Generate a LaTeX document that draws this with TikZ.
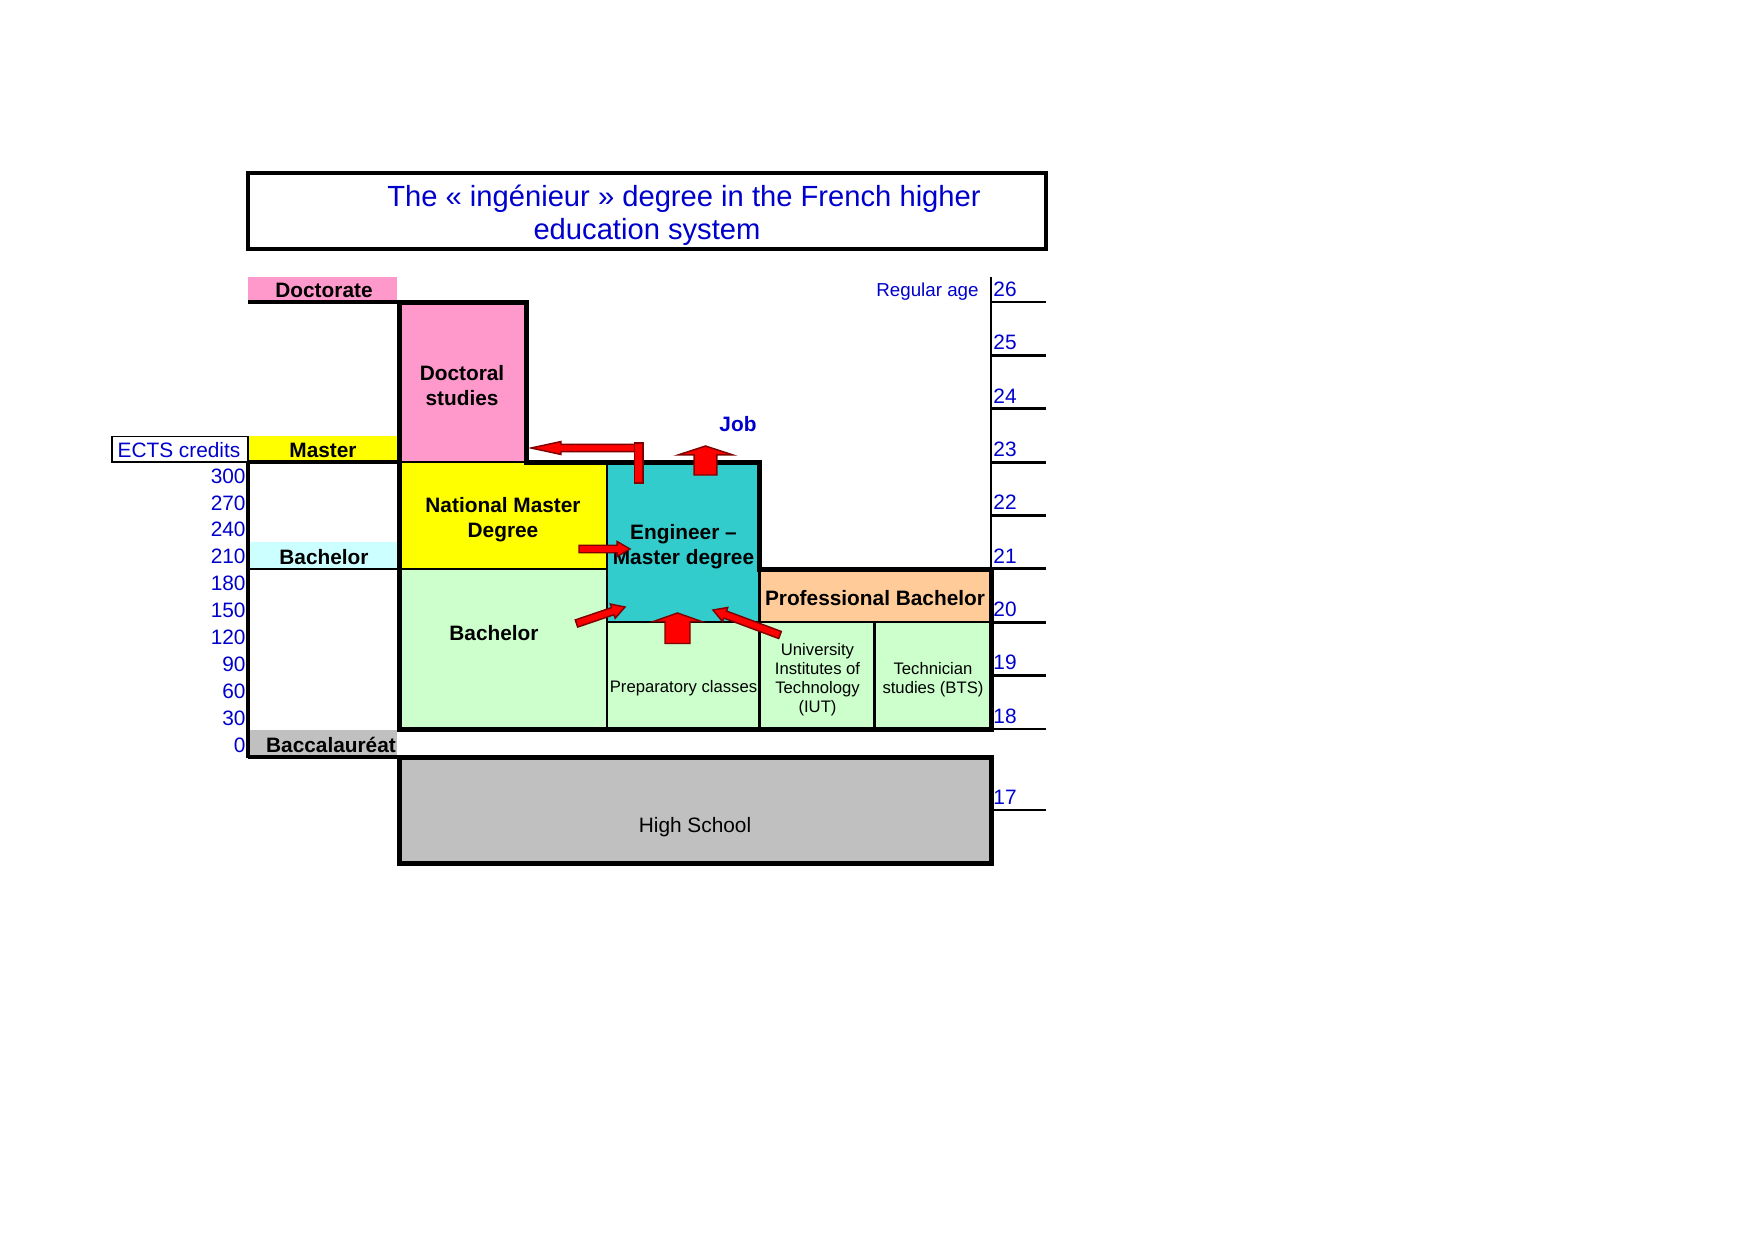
\documentclass[tikz,border=0pt]{standalone}
\usepackage{fontspec}
\setmainfont{Liberation Sans}
\usetikzlibrary{calc}
\definecolor{tblue}{RGB}{0,0,204}
\definecolor{cpink}{HTML}{FF99CC}
\definecolor{cyellow}{HTML}{FFFF00}
\definecolor{ccyan}{HTML}{CCFFFF}
\definecolor{cgreen}{HTML}{CCFFCC}
\definecolor{cteal}{HTML}{33CCCC}
\definecolor{cpeach}{HTML}{FFCC99}
\definecolor{cgray}{HTML}{C0C0C0}
\definecolor{arrowdark}{HTML}{800000}
\definecolor{arrowred}{HTML}{FF0000}
\newcommand{\blockarrow}[5]{%
  \coordinate (ba-n) at ($(#2)!#5!(#1)$);
  \filldraw[arrowfill] ($(#1)!#3!90:(#2)$) -- ($(ba-n)!#3!90:(#2)$) -- ($(ba-n)!#4!90:(#2)$) -- (#2)
    -- ($(ba-n)!#4!-90:(#2)$) -- ($(ba-n)!#3!-90:(#2)$) -- ($(#1)!#3!-90:(#2)$) -- cycle;
}
\tikzset{
  lbl/.style={font=\fontsize{10}{12.3}\selectfont\bfseries, align=center, inner sep=0pt},
  sml/.style={font=\fontsize{8}{9.2}\selectfont, align=center, inner sep=0pt},
  reg/.style={font=\fontsize{10}{12}\selectfont, align=center, inner sep=0pt},
  num/.style={font=\fontsize{10}{12}\selectfont, text=tblue, inner sep=0pt},
  ttl/.style={font=\fontsize{14}{16}\selectfont, text=tblue, inner sep=0pt},
  thickline/.style={line width=2.4pt, line join=miter},
  midline/.style={line width=1.4pt},
  thinline/.style={line width=1pt},
  arrowfill/.style={fill=arrowred, draw=arrowdark, line width=0.7pt, line join=miter},
}
\begin{document}
\begin{tikzpicture}[x=0.48pt, y=-0.48pt]
\useasboundingbox (0,0) rectangle (1754,1240);

% title
\draw[line width=1.9pt] (248,173) rectangle (1046,249);
\node[ttl] (title1) at (684,198.5) {The « ingénieur » degree in the French higher};
\node[ttl] (title2) at (647,231.5) {education system};

% left column labels
\fill[cpink] (248,277) rectangle (397,302);
\fill[cyellow] (248,436) rectangle (397,462);
\fill[ccyan] (248,542) rectangle (397,569);
\fill[cgray] (248,730) rectangle (397,757);
\node[lbl] (ldoc) at (324,290) {Doctorate};
\node[lbl] (lmas) at (323,450) {Master};
\node[lbl] (lbac) at (324,557) {Bachelor};
\node[lbl] (lbacc) at (331,745) {Baccalauréat};
\draw[line width=1.9pt] (248,302) -- (399,302);
\draw[line width=1.9pt] (248,462) -- (399,462);
\draw[midline] (248,569) -- (399,569);
\draw[line width=1.9pt] (248,757) -- (399,757);
\draw[line width=1.7pt] (248,461) -- (248,758);

% ECTS box and numbers
\draw[line width=0.6pt] (112,436.5) rectangle (248,462);
\node[num] (ects) at (179,450) {ECTS credits};
\foreach \k in {0,...,10}{
  \pgfmathtruncatemacro\v{300-30*\k}
  \node[num, anchor=east] (e\v) at (246,{476+26.9*\k}) {\v};
}

% blocks fills
\fill[cpink] (399,302) rectangle (526,462);
\fill[cyellow] (399,462) rectangle (607,569);
\fill[cgreen] (399,569) rectangle (607,729);
\fill[cteal] (607,462) rectangle (759.5,622);
\fill[cgreen] (607,622) rectangle (759.5,729);
\fill[cpeach] (759.5,569) rectangle (991,622);
\fill[cgreen] (759.5,622) rectangle (991,729);

% internal lines
\draw[midline] (399,462) -- (526,462);
\draw[midline] (399,569) -- (607,569);
\draw[midline] (607,462) -- (607,729);
\draw[thinline] (607,622) -- (759.5,622);
\draw[midline] (759.5,569) -- (759.5,729);
\draw[thinline] (759.5,622) -- (991,622);
\draw[midline] (874.7,622) -- (874.7,729);

% outline
\draw[thickline] (399,302) -- (526,302) -- (526,462) -- (759.5,462) -- (759.5,569)
  -- (991,569) -- (991,729) -- (399,729) -- cycle;

% age axis
\draw[midline] (991,277) -- (991,729);
\foreach \k in {0,...,8}{
  \pgfmathtruncatemacro\a{26-\k}
  \node[num, anchor=west] (age\a) at (993,{302+53.375*\k-13}) {\a};
  \draw[midline] (991,{302+53.375*\k}) -- (1046,{302+53.375*\k});
}
\node[num, anchor=west] (age17) at (993,797) {17};
\draw[midline] (991,810) -- (1046,810);
\node[num, anchor=east, font=\fontsize{9}{11}\selectfont] (regage) at (979,292) {Regular age};

% high school
\draw[thickline, fill=cgray] (399,757) rectangle (991,863.5);
\node[reg] (hs) at (695,827.5) {High School};

% block texts
\node[lbl] (docst) at (462,385.5) {Doctoral\\studies};
\node[lbl] (nmd) at (503,519.5) {National Master\\Degree};
\node[lbl] (bach) at (494,633.5) {Bachelor};
\node[lbl] (eng) at (683.5,546.5) {Engineer --\\Master degree};
\node[sml] (prep) at (683.5,688.5) {Preparatory classes};
\node[lbl] (prof) at (875,598.5) {Professional Bachelor};
\node[sml] (iut) at (817.5,679.5) {University\\Institutes of\\Technology\\(IUT)};
\node[sml] (bts) at (933,679.5) {Technician\\studies (BTS)};
\node[lbl, text=tblue] (job) at (738,424) {Job};

% arrows
\coordinate (dS) at (639,448);
\coordinate (dT) at (531,448);
\blockarrow{dS}{dT}{1.7pt}{3.1pt}{14.4pt}
\filldraw[arrowfill] (634.5,443) rectangle (643,483);

\coordinate (jS) at (705.5,475);
\coordinate (jT) at (705.5,446);
\blockarrow{jS}{jT}{5.5pt}{13.2pt}{4.3pt}

\coordinate (nS) at (579,549);
\coordinate (nT) at (630,549);
\blockarrow{nS}{nT}{1.8pt}{3.6pt}{6.2pt}

\coordinate (bS) at (576.5,623.5);
\coordinate (bT) at (625,607);
\blockarrow{bS}{bT}{1.8pt}{3.6pt}{6.2pt}

\coordinate (pS) at (677.5,643.5);
\coordinate (pT) at (677.5,613);
\blockarrow{pS}{pT}{6pt}{11.6pt}{4.1pt}

\coordinate (iS) at (780,635);
\coordinate (iT) at (713,610);
\blockarrow{iS}{iT}{1.8pt}{3.6pt}{6.2pt}
\end{tikzpicture}
\end{document}
